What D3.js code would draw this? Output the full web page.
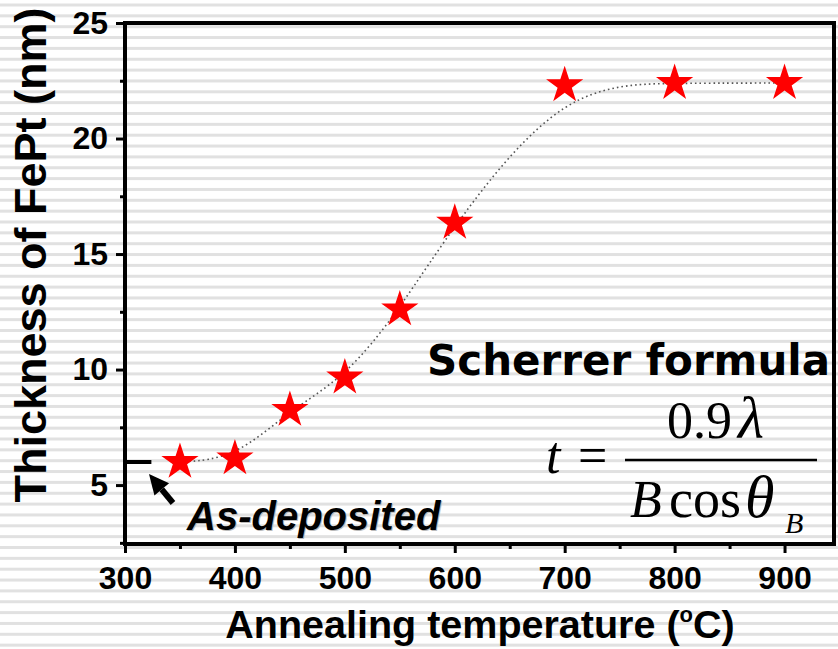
<!DOCTYPE html>
<html>
<head>
<meta charset="utf-8">
<script src="https://cdn.jsdelivr.net/npm/d3@7"></script>
<style>
  body { margin: 0; background: #fff; }
  svg { display: block; }
  .axis text { font-family: "Liberation Sans", Arial, sans-serif; font-weight: bold; font-size: 32px; fill: #000; }
</style>
</head>
<body>
<div id="chart"></div>
<script>
// annealing temperature (C) and FePt grain size (nm)
var temps = [350, 400, 450, 500, 550, 600, 700, 800, 900];
var thickness = [6.0, 6.15, 8.25, 9.65, 12.6, 16.35, 22.3, 22.4, 22.4];
var asDeposited = 6.0;
var xTicks = [300, 400, 500, 600, 700, 800, 900];
var yTicks = [5, 10, 15, 20, 25];

var width = 838,
    height = 649;

var svg = d3.select("#chart")
    .append("svg")
    .attr("width", width)
    .attr("height", height);

// striped background
svg.append("rect").attr("width", width).attr("height", height).style("fill", "#fff");
svg.append("g")
    .selectAll("rect")
    .data(d3.range(0, 60))
    .enter()
    .append("rect")
    .attr("x", 0)
    .attr("y", function (i) { return 3.5 + i * 10.85; })
    .attr("width", width)
    .attr("height", 3)
    .style("fill", "#e1e1e1");

var xScale = d3.scaleLinear().domain([300, 945]).range([125, 834]);
var yScale = d3.scaleLinear().domain([2.45, 25]).range([544, 23]);

// fitted trend (dotted)
var line = d3.line()
    .x(function (d, i) { return xScale(temps[i]); })
    .y(function (d) { return yScale(d); })
    .curve(d3.curveBasis);

svg.append("path")
    .datum(thickness)
    .attr("d", line)
    .style("fill", "none")
    .style("stroke", "#555")
    .style("stroke-width", 1.6)
    .style("stroke-dasharray", "1.6,3");

// axes
var minorX = d3.range(350, 945, 100);
var minorY = d3.range(2.5, 25, 5);

svg.append("g")
    .attr("class", "axis")
    .attr("transform", "translate(0,544)")
    .call(d3.axisBottom(xScale).tickValues(minorX).tickSize(5).tickSizeOuter(0).tickFormat(""))
    .call(function (g) { g.select(".domain").remove(); })
    .selectAll("line").style("stroke-width", 3);

svg.append("g")
    .attr("class", "axis")
    .attr("transform", "translate(125,0)")
    .call(d3.axisLeft(yScale).tickValues(minorY).tickSize(5).tickSizeOuter(0).tickFormat(""))
    .call(function (g) { g.select(".domain").remove(); })
    .selectAll("line").style("stroke-width", 3);

var xAxis = svg.append("g")
    .attr("class", "axis")
    .attr("transform", "translate(0,544)")
    .call(d3.axisBottom(xScale).tickValues(xTicks).tickSize(9).tickPadding(13).tickSizeOuter(0));
xAxis.select(".domain").remove();
xAxis.selectAll("line").style("stroke-width", 3);

var yAxis = svg.append("g")
    .attr("class", "axis")
    .attr("transform", "translate(125,0)")
    .call(d3.axisLeft(yScale).tickValues(yTicks).tickSize(9).tickPadding(8).tickSizeOuter(0));
yAxis.select(".domain").remove();
yAxis.selectAll("line").style("stroke-width", 3);

// frame
svg.append("rect")
    .attr("x", xScale.range()[0])
    .attr("y", yScale.range()[1])
    .attr("width", xScale.range()[1] - xScale.range()[0])
    .attr("height", yScale.range()[0] - yScale.range()[1])
    .style("fill", "none")
    .style("stroke", "#000")
    .style("stroke-width", 4);

// as-deposited marker + arrow
svg.append("line")
    .attr("x1", xScale(300)).attr("x2", xScale(324))
    .attr("y1", yScale(asDeposited)).attr("y2", yScale(asDeposited))
    .style("stroke", "#000").style("stroke-width", 4);

// arrow from (173,503) to tip (149,474)
var tail = [173, 503], tip = [149, 474];
var dx = tip[0] - tail[0], dy = tip[1] - tail[1], len = Math.sqrt(dx * dx + dy * dy);
var ux = dx / len, uy = dy / len, px = -uy, py = ux;
var hb = [tip[0] - ux * 20, tip[1] - uy * 20];
svg.append("line")
    .attr("x1", tail[0]).attr("y1", tail[1])
    .attr("x2", hb[0]).attr("y2", hb[1])
    .style("stroke", "#000").style("stroke-width", 6);
svg.append("path")
    .attr("d", "M" + tip + "L" + [hb[0] + px * 9.5, hb[1] + py * 9.5] + "L" + [hb[0] - px * 9.5, hb[1] - py * 9.5] + "Z")
    .style("fill", "#000");

// stars
var star = d3.symbol().type(d3.symbolStar).size(430);
svg.append("g")
    .selectAll("path")
    .data(thickness)
    .enter()
    .append("path")
    .attr("d", star)
    .attr("transform", function (d, i) {
        return "translate(" + xScale(temps[i]) + "," + yScale(d) + ")";
    })
    .style("fill", "#ff0000");

// annotations
svg.append("text")
    .attr("x", 188).attr("y", 531)
    .style("font-family", "Liberation Sans, Arial, sans-serif")
    .style("font-weight", "bold").style("font-style", "italic")
    .style("font-size", "40px").style("fill", "#bbb")
    .text("As-deposited");
svg.append("text")
    .attr("x", 187).attr("y", 530)
    .style("font-family", "Liberation Sans, Arial, sans-serif")
    .style("font-weight", "bold").style("font-style", "italic")
    .style("font-size", "40px").style("fill", "#000")
    .text("As-deposited");

svg.append("text")
    .attr("x", 427).attr("y", 375)
    .style("font-family", "DejaVu Sans, Verdana, sans-serif")
    .style("font-weight", "bold")
    .style("font-size", "42px")
    .text("Scherrer formula");

var serif = "Liberation Serif, Times New Roman, serif";
function mathText(x, y, s, italic, size) {
    return svg.append("text")
        .attr("x", x).attr("y", y)
        .style("font-family", serif)
        .style("font-style", italic ? "italic" : "normal")
        .style("font-size", (size || 52) + "px")
        .text(s);
}
mathText(546, 473, "t", true);
mathText(578, 473, "=", false);
svg.append("line")
    .attr("x1", 625).attr("x2", 817).attr("y1", 460).attr("y2", 460)
    .style("stroke", "#000").style("stroke-width", 2.5);
mathText(667, 438, "0.9", false);
mathText(738, 438, "\u03bb", true, 60);
mathText(630, 517, "B", true);
mathText(669, 517, "cos", false, 54);
mathText(745, 517, "\u03b8", true, 60);
mathText(785, 533, "B", true, 30);

// axis titles
var xt = svg.append("text")
    .attr("x", 480).attr("y", 638)
    .attr("text-anchor", "middle")
    .style("font-family", "Liberation Sans, Arial, sans-serif")
    .style("font-size", "39.5px")
    .style("font-weight", "bold");
xt.append("tspan").text("Annealing temperature (");
xt.append("tspan").attr("dy", -16).style("font-size", "22px").text("o");
xt.append("tspan").attr("dy", 16).text("C)");

svg.append("text")
    .attr("transform", "translate(46,255) rotate(-90)")
    .attr("text-anchor", "middle")
    .style("font-family", "Liberation Sans, Arial, sans-serif")
    .style("font-size", "45px")
    .style("font-weight", "bold")
    .text("Thickness of FePt (nm)");
</script>
</body>
</html>
